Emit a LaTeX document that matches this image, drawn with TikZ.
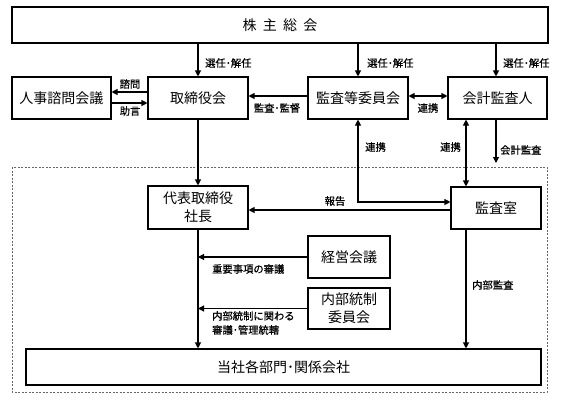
\documentclass[tikz,border=0pt]{standalone}
\usepackage{fontspec}
\setmainfont{Noto Sans CJK JP}
\newfontfamily\lblfont[FakeBold=0.6]{Noto Sans CJK JP}
\usetikzlibrary{arrows.meta,calc}
\begin{document}
\begin{tikzpicture}[x=1pt,y=-1pt,
  box/.style={draw,line width=1.1pt,inner sep=0pt,font=\fontsize{14}{18}\selectfont,align=center},
  lbl/.style={font=\lblfont\fontsize{10.3}{14}\selectfont,inner sep=0pt},
  arr/.style={line width=1.1pt,-{Triangle[length=6pt,width=6pt]}},
  darr/.style={line width=1.1pt,{Triangle[length=6pt,width=6pt]}-{Triangle[length=6pt,width=6pt]}},
  frame/.style={draw=black!60,line width=0.9pt,dash pattern=on 2pt off 1.5pt}
]
\useasboundingbox (0,0) rectangle (563,400);
\fill[white] (0,0) rectangle (563,400);
\draw[frame] (12,167) rectangle (547,392);

\node[box,minimum width=536,minimum height=36] (kabu) at (280,25) {株\hspace{0.45em}主\hspace{0.45em}総\hspace{0.45em}会};
\node[box,minimum width=99,minimum height=42] (jinji) at (61.5,98) {人事諮問会議};
\node[box,minimum width=100,minimum height=42] (tori) at (198,98) {取締役会};
\node[box,minimum width=100,minimum height=42] (kansa) at (358,98) {監査等委員会};
\node[box,minimum width=99,minimum height=42] (kaikei) at (497.5,98) {会計監査人};
\node[box,minimum width=100,minimum height=43] (daihyo) at (198,207.5) {代表取締役\\社長};
\node[box,minimum width=90,minimum height=42] (shitsu) at (496,208) {監査室};
\node[box,minimum width=82,minimum height=42] (keiei) at (349,257) {経営会議};
\node[box,minimum width=82,minimum height=41] (naibu) at (349,308.5) {内部統制\\委員会};
\node[box,minimum width=515,minimum height=36] (bottom) at (283.5,367) {当社各部門･関係会社};

\coordinate (kx) at (466,0);
\coordinate (kk) at (496,163);

\draw[arr] (kabu.south -| tori.north) -- (tori.north);
\draw[arr] (kabu.south -| kansa.north) -- (kansa.north);
\draw[arr] (kabu.south -| kk) -- (kaikei.north -| kk);
\node[lbl,anchor=west] (l1) at (205,63) {選任･解任};
\node[lbl,anchor=west] (l2) at (367,63) {選任･解任};
\node[lbl,anchor=west] (l3) at (503,63) {選任･解任};

\draw[arr] ([yshift=6pt]tori.west) -- ([yshift=6pt]tori.west -| jinji.east);
\draw[arr] ([yshift=-5pt]jinji.east) -- ([yshift=-5pt]jinji.east -| tori.west);
\node[lbl] (l4) at (130,84) {諮問};
\node[lbl] (l5) at (130,111) {助言};

\draw[arr] ([yshift=2pt]kansa.west) -- ([yshift=2pt]kansa.west -| tori.east);
\node[lbl] (l6) at (277,108) {監査･監督};
\draw[darr] ([yshift=2pt]kansa.east) -- ([yshift=2pt]kansa.east -| kaikei.west);
\node[lbl] (l7) at (428,108) {連携};

\draw[arr] (tori.south) -- (daihyo.north);
\draw[darr] (kansa.south) |- ([yshift=6pt]shitsu.west);
\node[lbl,anchor=west] (l8) at (365,147) {連携};
\draw[darr] (kaikei.south -| kx) -- (shitsu.north -| kx);
\node[lbl,anchor=east] (l9) at (461,147) {連携};
\draw[arr] (kaikei.south -| kk) -- (kk);
\node[lbl,anchor=west] (l10) at (500,150) {会計監査};

\draw[arr] ([yshift=-2pt]shitsu.west) -- ([yshift=-2pt]shitsu.west -| daihyo.east);
\node[lbl] (l11) at (335,201) {報告};

\draw[arr] (keiei.west) -- (keiei.west -| daihyo.south);
\node[lbl,anchor=west] (l12) at (212,269) {重要事項の審議};
\draw[arr] (naibu.west) -- (naibu.west -| daihyo.south);
\node[lbl,anchor=north west,align=left] (l13) at (212,311) {内部統制に関わる\\審議･管理統轄};

\draw[arr] (daihyo.south) -- (bottom.north -| daihyo.south);
\draw[arr] (shitsu.south -| kx) -- (bottom.north -| kx);
\node[lbl,anchor=west] (l14) at (472,285) {内部監査};
\end{tikzpicture}
\end{document}
